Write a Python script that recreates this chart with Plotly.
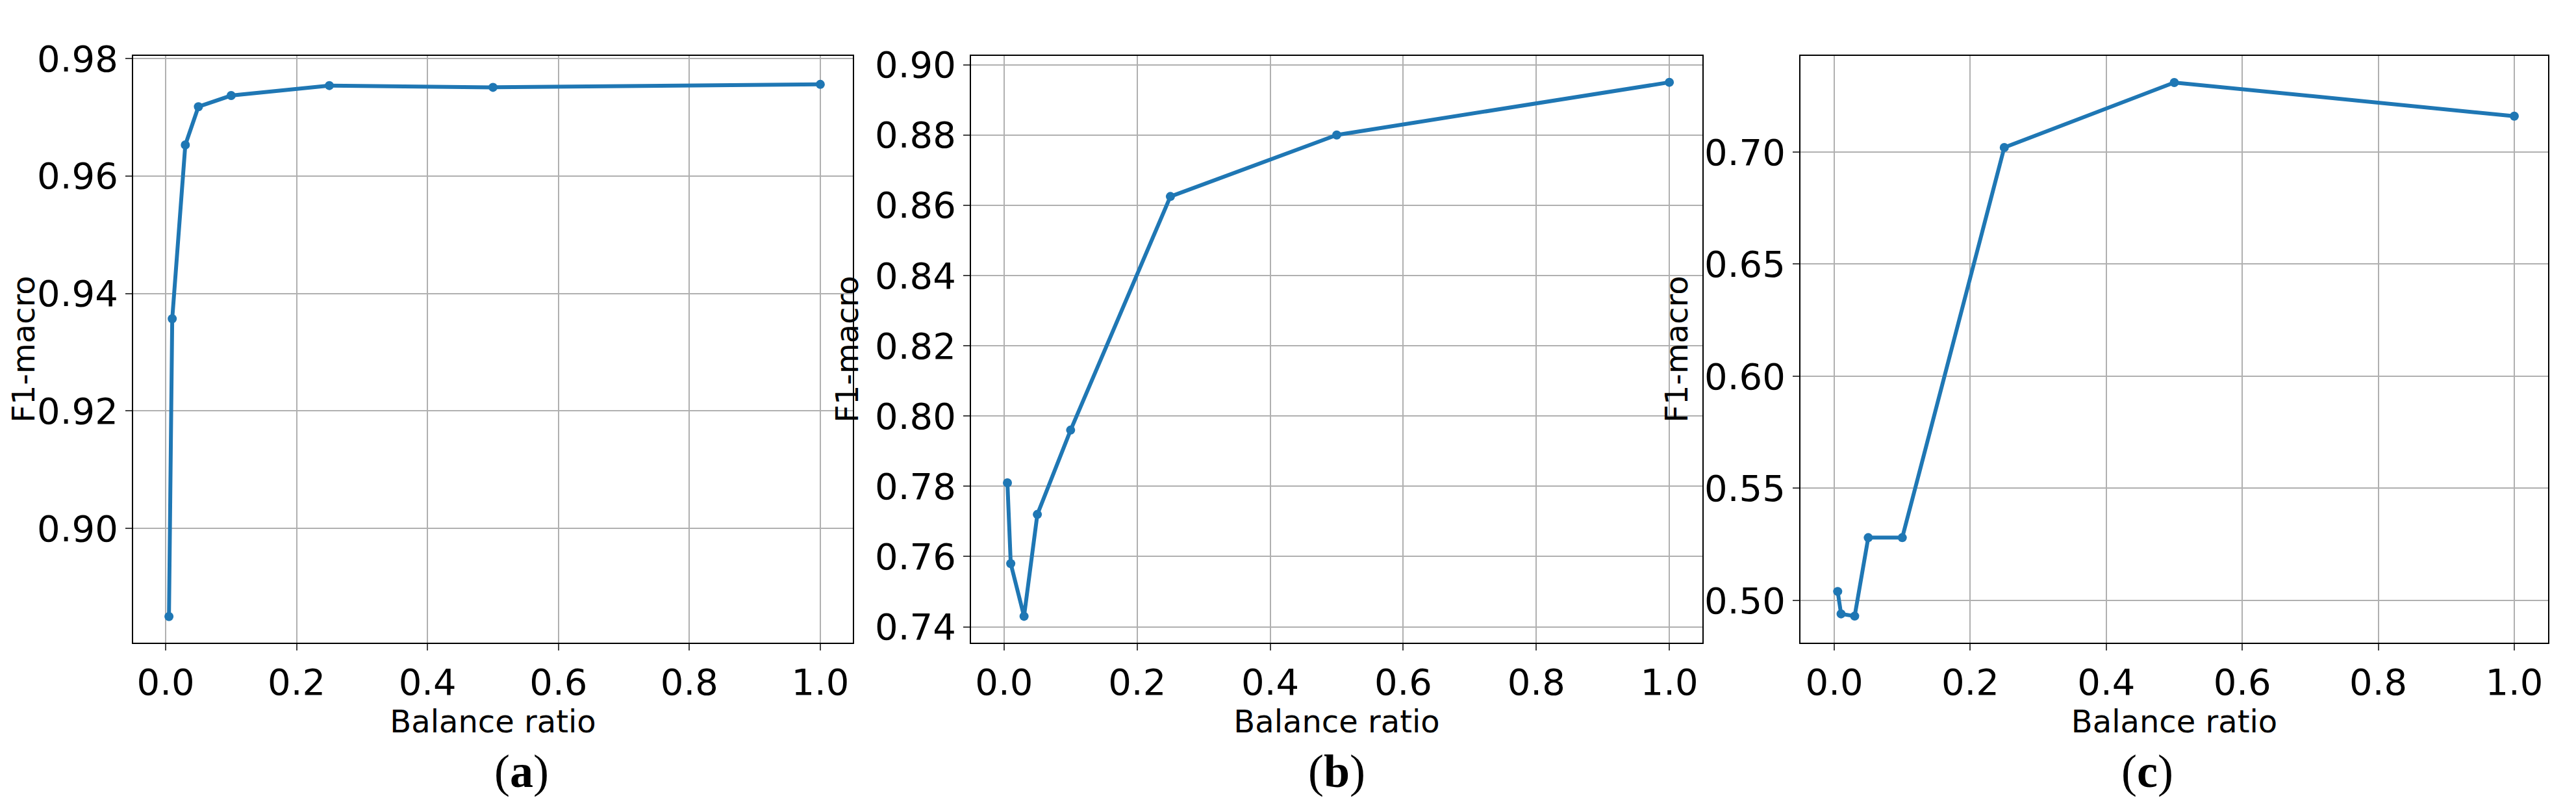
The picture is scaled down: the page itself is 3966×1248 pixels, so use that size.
import plotly.graph_objects as go

W, H = 3966, 1248
ratio = [0.005, 0.01, 0.03, 0.05, 0.1, 0.25, 0.5, 1.0]
f1_a = [0.885, 0.9357, 0.9653, 0.9718, 0.9737, 0.9754, 0.9751, 0.9756]
f1_b = [0.781, 0.758, 0.743, 0.772, 0.796, 0.8625, 0.880, 0.895]
f1_c = [0.504, 0.494, 0.493, 0.528, 0.528, 0.702, 0.731, 0.716]
series = [f1_a, f1_b, f1_c]
captions = ["a", "b", "c"]
yranges = [[0.8805, 0.9805], [0.7354, 0.9026], [0.481, 0.743]]
ydticks = [0.02, 0.02, 0.05]
xpix = [(197, 1305), (1487, 2613), (2764, 3915)]
ytop, ybot = 51, 981

fig = go.Figure()
lay = dict(width=W, height=H, margin=dict(l=0, r=0, t=0, b=0),
           plot_bgcolor="white", paper_bgcolor="white", showlegend=False,
           font=dict(family="DejaVu Sans", size=44, color="black"))
ann = []
for i, (ys, (x0, x1)) in enumerate(zip(series, xpix)):
    n = "" if i == 0 else str(i + 1)
    fig.add_trace(go.Scatter(x=ratio, y=ys, mode="lines+markers",
                             line=dict(color="#1f77b4", width=6),
                             marker=dict(size=14, color="#1f77b4"),
                             xaxis="x" + n, yaxis="y" + n))
    common = dict(showline=True, linecolor="black", linewidth=2, mirror=True,
                  showgrid=True, gridcolor="#b0b0b0", gridwidth=2,
                  ticks="outside", ticklen=10, tickwidth=2, zeroline=False,
                  tickfont=dict(size=56))
    lay["xaxis" + n] = dict(domain=[x0 / W, x1 / W], anchor="y" + n,
                            range=[-0.0497, 1.0497], dtick=0.2, tick0=0,
                            tickformat=".1f",
                            title=dict(text="Balance ratio", font=dict(size=48), standoff=12),
                            **common)
    lay["yaxis" + n] = dict(domain=[1 - ybot / H, 1 - ytop / H], anchor="x" + n,
                            range=yranges[i], dtick=ydticks[i], tick0=0,
                            tickformat=".2f",
                            title=dict(text="F1-macro", font=dict(size=48), standoff=10),
                            **common)
    ann.append(dict(text="(<b>%s</b>)" % captions[i], x=(x0 + x1) / 2 / W, y=1 - 1184 / H,
                    xref="paper", yref="paper", showarrow=False, yanchor="middle",
                    font=dict(family="Liberation Serif", size=72)))
lay["annotations"] = ann
fig.update_layout(**lay)
fig.write_html("out.html")
